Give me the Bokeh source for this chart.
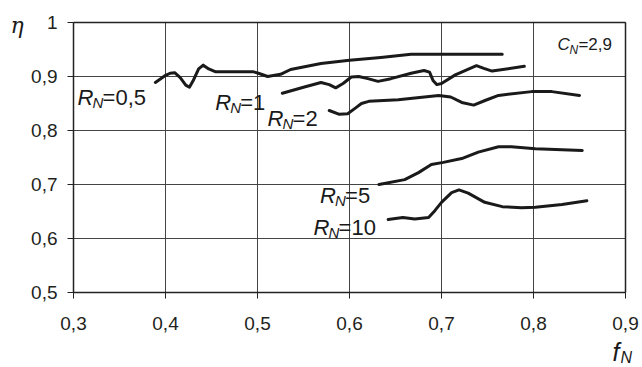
from bokeh.plotting import figure
from bokeh.models import Label, FixedTicker
from bokeh.embed import file_html
from bokeh.resources import INLINE

# ---- data ----
rn05_x = [0.389, 0.399, 0.405, 0.410, 0.416, 0.422, 0.426, 0.430, 0.436, 0.441, 0.447, 0.454, 0.495, 0.501, 0.511, 0.525, 0.536, 0.569, 0.600, 0.634, 0.667, 0.700, 0.766]
rn05_y = [0.889, 0.901, 0.906, 0.907, 0.898, 0.884, 0.880, 0.892, 0.914, 0.921, 0.914, 0.909, 0.909, 0.906, 0.900, 0.904, 0.913, 0.924, 0.930, 0.935, 0.941, 0.941, 0.941]

rn1_x = [0.527, 0.550, 0.569, 0.578, 0.585, 0.593, 0.602, 0.610, 0.620, 0.631, 0.645, 0.667, 0.681, 0.687, 0.691, 0.695, 0.700, 0.715, 0.738, 0.746, 0.755, 0.790]
rn1_y = [0.869, 0.880, 0.889, 0.885, 0.879, 0.887, 0.899, 0.900, 0.896, 0.891, 0.896, 0.906, 0.911, 0.908, 0.892, 0.885, 0.887, 0.903, 0.920, 0.915, 0.910, 0.919]

rn2_x = [0.578, 0.589, 0.598, 0.606, 0.613, 0.621, 0.653, 0.697, 0.710, 0.722, 0.735, 0.748, 0.762, 0.798, 0.820, 0.850]
rn2_y = [0.837, 0.830, 0.831, 0.841, 0.850, 0.854, 0.857, 0.865, 0.862, 0.852, 0.847, 0.856, 0.865, 0.872, 0.872, 0.865]

rn5_x = [0.632, 0.660, 0.675, 0.689, 0.702, 0.722, 0.740, 0.762, 0.776, 0.802, 0.853]
rn5_y = [0.700, 0.709, 0.722, 0.737, 0.741, 0.748, 0.760, 0.770, 0.770, 0.766, 0.763]

rn10_x = [0.642, 0.658, 0.671, 0.686, 0.693, 0.700, 0.711, 0.719, 0.729, 0.747, 0.766, 0.787, 0.802, 0.831, 0.858]
rn10_y = [0.635, 0.639, 0.636, 0.639, 0.652, 0.667, 0.685, 0.690, 0.684, 0.667, 0.659, 0.657, 0.658, 0.663, 0.670]

x_ticks = [0.3, 0.4, 0.5, 0.6, 0.7, 0.8, 0.9]
x_tick_labels = ["0,3", "0,4", "0,5", "0,6", "0,7", "0,8", "0,9"]
y_ticks = [0.5, 0.6, 0.7, 0.8, 0.9, 1.0]
y_tick_labels = ["0,5", "0,6", "0,7", "0,8", "0,9", "1"]

series_labels = ["=0,5", "=1", "=2", "=5", "=10"]
series_label_pos = [(0.3044, 0.861), (0.454, 0.852), (0.511, 0.822), (0.568, 0.680), (0.561, 0.620)]

FONT = "Liberation Sans"
INK = "#1a1a1a"
W, H = 642, 367

# the plotting box (px on the canvas) that the axes span
BOX_L, BOX_R, BOX_T, BOX_B = 73, 625, 22, 292
x0, x1 = x_ticks[0], x_ticks[-1]
y0, y1 = y_ticks[0], y_ticks[-1]
sx = (x1 - x0) / (BOX_R - BOX_L)
sy = (y1 - y0) / (BOX_B - BOX_T)
xr = (x0 - BOX_L * sx, x1 + (W - BOX_R) * sx)
yr = (y0 - (H - BOX_B) * sy, y1 + BOX_T * sy)

p = figure(width=W, height=H, x_range=xr, y_range=yr,
           output_backend="svg", toolbar_location=None, min_border=0,
           min_border_left=0, min_border_right=0, min_border_top=0, min_border_bottom=0)

p.outline_line_color = None
p.background_fill_color = "white"
p.border_fill_color = "white"
p.xgrid.visible = False
p.ygrid.visible = False

# grid (and box) lines
p.segment(x0=x_ticks, y0=[y0] * len(x_ticks), x1=x_ticks, y1=[y1] * len(x_ticks),
          line_color="#444444", line_width=1)
p.segment(x0=[x0] * len(y_ticks), y0=y_ticks, x1=[x1] * len(y_ticks), y1=y_ticks,
          line_color="#444444", line_width=1)
p.segment(x0=[x1], y0=[y0], x1=[x1], y1=[y1], line_color="#222222", line_width=1.5)
p.segment(x0=[x0], y0=[y1], x1=[x1], y1=[y1], line_color="#222222", line_width=1.5)

for ax in (p.xaxis[0], p.yaxis[0]):
    ax.major_tick_in = 0
    ax.major_tick_out = 6
    ax.minor_tick_out = 0
    ax.minor_tick_in = 0
    ax.axis_line_color = "#222222"
    ax.axis_line_width = 1.5
    ax.major_tick_line_color = "#222222"
    ax.major_label_text_font = FONT
    ax.major_label_text_font_size = "19px"
    ax.major_label_text_color = "#231f20"

p.xaxis.fixed_location = y0
p.yaxis.fixed_location = x0
p.xaxis.bounds = (x0, x1)
p.yaxis.bounds = (y0, y1)
p.xaxis.ticker = FixedTicker(ticks=x_ticks)
p.yaxis.ticker = FixedTicker(ticks=y_ticks)
p.xaxis.major_label_overrides = {t: l for t, l in zip(x_ticks, x_tick_labels)}
p.yaxis.major_label_overrides = {t: l for t, l in zip(y_ticks, y_tick_labels)}
p.xaxis.major_label_standoff = 18
p.yaxis.major_label_standoff = 10

for xs, ys in [(rn05_x, rn05_y), (rn1_x, rn1_y), (rn2_x, rn2_y), (rn5_x, rn5_y), (rn10_x, rn10_y)]:
    p.line(xs, ys, line_color=INK, line_width=3, line_join="round", line_cap="round")


def sub_label(x, y, main, sub, rest, size, sub_size, main_w, sub_w, font=FONT):
    kw = dict(x=x, y=y, text_color=INK, text_baseline="alphabetic")
    p.add_layout(Label(text=main, text_font=font, text_font_style="italic",
                       text_font_size=f"{size}px", **kw))
    p.add_layout(Label(x_offset=main_w, y_offset=-5, text=sub, text_font=FONT,
                       text_font_style="italic", text_font_size=f"{sub_size}px", **kw))
    if rest:
        p.add_layout(Label(x_offset=main_w + sub_w, text=rest, text_font=FONT,
                           text_font_size=f"{size}px", **kw))


for (lx, ly), txt in zip(series_label_pos, series_labels):
    sub_label(lx, ly, "R", "N", txt, 22, 15, 15, 10)

sub_label(0.826, 0.959, "C", "N", "=2,9", 17, 12, 12, 9)
sub_label(0.8859, 0.3889, "f", "N", "", 25, 16, 8, 0)

p.add_layout(Label(x=0.2315, y=0.995, text="η", text_font="DejaVu Serif", text_font_style="italic",
                   text_font_size="22px", text_color=INK, text_baseline="alphabetic"))

open("out.html", "w").write(file_html(p, INLINE))
